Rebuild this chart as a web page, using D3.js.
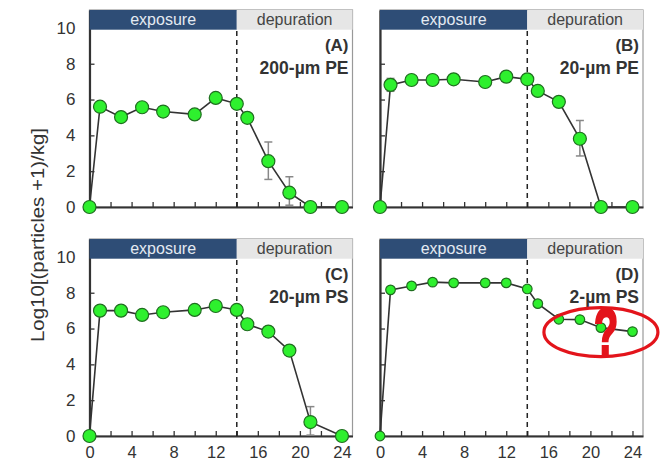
<!DOCTYPE html>
<html>
<head>
<meta charset="utf-8">
<script src="https://cdn.jsdelivr.net/npm/d3@7"></script>
<style>
  body { margin: 0; background: #fff; }
  text { font-family: "Liberation Sans", Arial, sans-serif; }
</style>
</head>
<body>
<div id="chart"></div>
<script>
// sampling days
const days = [0, 1, 3, 5, 7, 10, 12, 14, 15, 17, 19, 21, 24];

// log10 values per panel
const pe200 = [0, 5.6, 5.02, 5.57, 5.33, 5.17, 6.09, 5.76, 4.98, 2.56, 0.8, 0, 0];
const pe20  = [0, 6.82, 7.09, 7.09, 7.13, 6.98, 7.28, 7.13, 6.48, 5.87, 3.81, 0, 0];
const ps20  = [0, 7.0, 7.0, 6.76, 6.91, 7.04, 7.26, 7.04, 6.24, 5.83, 4.77, 0.78, 0];
const ps2   = [0, 8.16, 8.38, 8.59, 8.55, 8.55, 8.55, 8.21, 7.39, 6.52, 6.5, 6.05, 5.83];

// error bars: [day, low, high]
const pe200Err = [[17, 1.54, 3.63], [19, 0.1, 1.69]];
const pe20Err  = [[1, 6.46, 7.18], [19, 2.85, 4.83]];
const ps20Err  = [[21, 0.05, 1.64]];
const ps2Err   = [];

const xTicks = d3.range(0, 25, 2);
const yTicks = [0, 2, 4, 6, 8, 10];

const panels = [
  {tag: "(A)", name: "200-µm PE", values: pe200, err: pe200Err, col: 0, row: 0, r: 6.5},
  {tag: "(B)", name: "20-µm PE",  values: pe20,  err: pe20Err,  col: 1, row: 0, r: 6.5},
  {tag: "(C)", name: "20-µm PS",  values: ps20,  err: ps20Err,  col: 0, row: 1, r: 6.5},
  {tag: "(D)", name: "2-µm PS",   values: ps2,   err: ps2Err,   col: 1, row: 1, r: 4.8}
];

const width = 668, height = 462;
const colLeft = [89.5, 380];
const rows = [{top: 10, bottom: 207}, {top: 239, bottom: 436}];
const panelW = 263;

const svg = d3.select("#chart").append("svg")
  .attr("width", width)
  .attr("height", height);

panels.forEach(p => {
  const left = colLeft[p.col];
  const row = rows[p.row];
  const x = d3.scaleLinear().domain([0, 25]).range([left, left + panelW]);
  const y = d3.scaleLinear().domain([0, 11]).range([row.bottom, row.top]);
  const g = svg.append("g");

  // frame
  g.append("rect")
    .attr("x", x(0)).attr("y", y(11))
    .attr("width", x(25) - x(0)).attr("height", y(0) - y(11))
    .attr("fill", "none").attr("stroke", "#999").attr("stroke-width", 1.2);

  // y axis
  const yAxis = g.append("g")
    .attr("transform", `translate(${x(0)},0)`)
    .call(d3.axisLeft(y).tickValues(yTicks).tickSizeInner(-5).tickSizeOuter(0)
      .tickPadding(14).tickFormat(d => p.col === 0 ? d : ""));
  yAxis.select(".domain").attr("stroke", "#333").attr("stroke-width", 2.2);
  yAxis.selectAll(".tick line").attr("stroke", "#333").attr("stroke-width", 1.3);
  yAxis.selectAll("text").attr("font-size", 17).attr("fill", "#333");

  // x axis
  const xAxis = g.append("g")
    .attr("transform", `translate(0,${y(0)})`)
    .call(d3.axisBottom(x).tickValues(xTicks).tickSizeInner(-5).tickSizeOuter(0)
      .tickPadding(10).tickFormat(d => (p.row === 1 && d % 4 === 0) ? d : ""));
  xAxis.select(".domain").attr("stroke", "#333").attr("stroke-width", 2.2);
  xAxis.selectAll(".tick line").attr("stroke", "#333").attr("stroke-width", 1.3);
  xAxis.selectAll("text").attr("font-size", 16.5).attr("fill", "#333");

  // header bands
  g.append("rect")
    .attr("x", x(0)).attr("y", y(11))
    .attr("width", x(14) - x(0)).attr("height", y(9.9) - y(11))
    .attr("fill", "#2e4d76");
  g.append("rect")
    .attr("x", x(14)).attr("y", y(11))
    .attr("width", x(25) - x(14)).attr("height", y(9.9) - y(11))
    .attr("fill", "#e6e6e6");
  g.append("text")
    .attr("x", (x(0) + x(14)) / 2).attr("y", y(11) + 14.5)
    .attr("text-anchor", "middle").attr("font-size", 16)
    .attr("fill", "#e4eaf2").text("exposure");
  g.append("text")
    .attr("x", (x(14) + x(25)) / 2).attr("y", y(11) + 14.5)
    .attr("text-anchor", "middle").attr("font-size", 16)
    .attr("fill", "#444").text("depuration");

  // exposure / depuration split
  g.append("line")
    .attr("x1", x(14)).attr("x2", x(14))
    .attr("y1", y(0)).attr("y2", y(9.9))
    .attr("stroke", "#222").attr("stroke-width", 1.5)
    .attr("stroke-dasharray", "5,4");

  // panel labels
  g.append("text")
    .attr("x", x(25) - 4).attr("y", y(11) + 41)
    .attr("text-anchor", "end").attr("font-size", 17).attr("font-weight", "bold")
    .attr("fill", "#333").text(p.tag);
  g.append("text")
    .attr("x", x(25) - 4).attr("y", y(11) + 64)
    .attr("text-anchor", "end").attr("font-size", 17.5).attr("font-weight", "bold")
    .attr("fill", "#333").text(p.name);

  // error bars
  p.err.forEach(e => {
    g.append("line")
      .attr("x1", x(e[0])).attr("x2", x(e[0]))
      .attr("y1", y(e[1])).attr("y2", y(e[2]))
      .attr("stroke", "#888").attr("stroke-width", 1.5);
    [e[1], e[2]].forEach(v => {
      g.append("line")
        .attr("x1", x(e[0]) - 4).attr("x2", x(e[0]) + 4)
        .attr("y1", y(v)).attr("y2", y(v))
        .attr("stroke", "#888").attr("stroke-width", 1.5);
    });
  });

  // series line
  const pts = days.map((d, i) => ({day: d, value: p.values[i]}));
  g.append("path")
    .datum(pts)
    .attr("fill", "none")
    .attr("stroke", "#333")
    .attr("stroke-width", 1.6)
    .attr("d", d3.line().x(d => x(d.day)).y(d => y(d.value)));

  g.selectAll("circle")
    .data(pts)
    .enter().append("circle")
    .attr("cx", d => x(d.day))
    .attr("cy", d => y(d.value))
    .attr("r", p.r)
    .attr("fill", "#2ef02e")
    .attr("stroke", "#1f6e1f")
    .attr("stroke-width", 1.2);

  // red question mark over the tail of panel D
  if (p.tag === "(D)") {
    g.append("ellipse")
      .attr("cx", x(21)).attr("cy", y(5.8))
      .attr("rx", 57).attr("ry", 24.5)
      .attr("fill", "none").attr("stroke", "#e3141b").attr("stroke-width", 3.2);
    g.append("text")
      .attr("transform", `translate(${x(21.5)},${y(4.55)}) scale(0.6,1)`)
      .attr("text-anchor", "middle")
      .attr("font-size", 66).attr("font-weight", "bold")
      .attr("fill", "#e3141b")
      .attr("stroke", "#e3141b").attr("stroke-width", 2.5)
      .text("?");
  }
});

// y axis title
svg.append("text")
  .attr("transform", "translate(44,235) rotate(-90)")
  .attr("text-anchor", "middle")
  .attr("font-size", 18)
  .attr("fill", "#333")
  .attr("textLength", 214)
  .attr("lengthAdjust", "spacingAndGlyphs")
  .text("Log10[(particles +1)/kg]");
</script>
</body>
</html>
